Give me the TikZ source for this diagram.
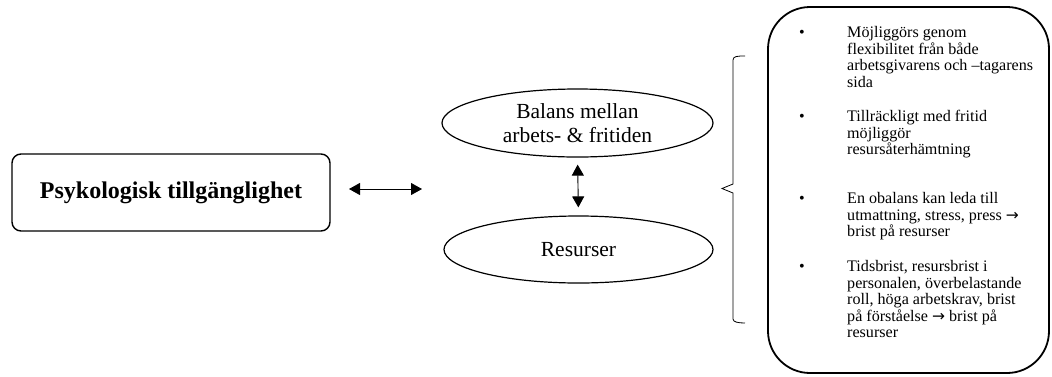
\documentclass[tikz,border=0pt]{standalone}
\usepackage{fontspec}
\setmainfont{Liberation Serif}
\newfontfamily\arrowfont{DejaVu Sans}
\usetikzlibrary{shapes.geometric,arrows.meta}
\newcommand{\myarr}{{\arrowfont\fontsize{15.5}{15.5}\selectfont →}}
\begin{document}
\begin{tikzpicture}[x=1pt,y=-1pt,
  mainbox/.style={draw, rounded corners=9pt, line width=1.4pt, minimum width=318pt, minimum height=77pt, inner sep=0pt, font=\bfseries\fontsize{24}{28}\selectfont},
  ell/.style={draw, ellipse, line width=1.2pt, inner sep=0pt, align=center, font=\fontsize{21.5}{24}\selectfont},
  infobox/.style={draw, rounded corners=42pt, line width=1.8pt, minimum width=281pt, minimum height=366pt, inner sep=0pt},
  bullettext/.style={anchor=base west, inner sep=0pt, font=\fontsize{16.1}{16.5}\selectfont},
  bulletdot/.style={anchor=base, inner sep=0pt, font=\fontsize{16.1}{16.5}\selectfont},
  dblarrow/.style={{Triangle[length=11pt,width=12pt]}-{Triangle[length=11pt,width=12pt]}, line width=0.9pt}
]
\useasboundingbox (0,0) rectangle (1052,376);

\node[mainbox] (psy) at (171,192.5) {Psykologisk tillgänglighet};

\coordinate (ha1) at (349,189);
\coordinate (ha2) at (422,189);
\draw[dblarrow] (ha1) -- (ha2);

\node[ell, minimum width=271pt, minimum height=68pt] (bal) at (577.5,123) {Balans mellan\\arbets- \& fritiden};
\node[ell, minimum width=269pt, minimum height=67pt] (res) at (578.5,249.5) {Resurser};
\draw[dblarrow, shorten <=7pt, shorten >=8pt] (bal.south) -- (res.north);

\draw[line width=0.8pt] (745,56) .. controls (738,56) and (733,56) .. (733,60)
  -- (733,184) -- (722,188.5) -- (733,193) -- (733,319)
  .. controls (733,322) and (738,323) .. (745,323);

\node[infobox] (info) at (908.5,190) {};

\node[bulletdot] (d1) at (802,37.5) {•};
\node[bullettext] (t1) at (847,37.5) {\begin{tabular}[t]{@{}l@{}}Möjliggörs genom\\flexibilitet från både\\arbetsgivarens och –tagarens\\sida\end{tabular}};

\node[bulletdot] (d2) at (802,121.5) {•};
\node[bullettext] (t2) at (847,121.5) {\begin{tabular}[t]{@{}l@{}}Tillräckligt med fritid\\möjliggör\\resursåterhämtning\end{tabular}};

\node[bulletdot] (d3) at (802,203.5) {•};
\node[bullettext] (t3) at (847,203.5) {\begin{tabular}[t]{@{}l@{}}En obalans kan leda till\\utmattning, stress, press \myarr\\brist på resurser\end{tabular}};

\node[bulletdot] (d4) at (802,271.5) {•};
\node[bullettext] (t4) at (847,271.5) {\begin{tabular}[t]{@{}l@{}}Tidsbrist, resursbrist i\\personalen, överbelastande\\roll, höga arbetskrav, brist\\på förståelse \myarr{} brist på\\resurser\end{tabular}};
\end{tikzpicture}
\end{document}
